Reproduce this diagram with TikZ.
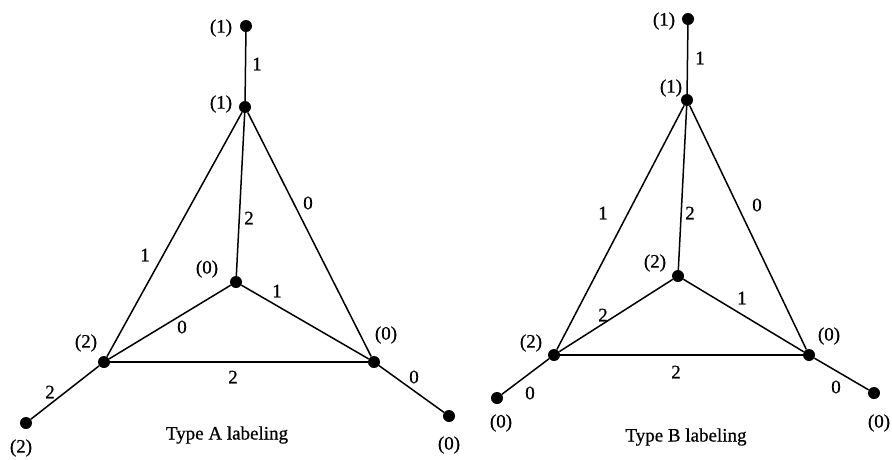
\documentclass[tikz,border=0pt]{standalone}
\usepackage{fontspec}
\setmainfont{Liberation Serif}
\newfontfamily\labfont[FakeBold=0.7]{Liberation Serif}
\usepackage{tikz}
\usetikzlibrary{positioning}
\tikzset{
  dot/.style={circle,fill=black,inner sep=0pt,minimum size=12pt},
  vlab/.style={inner sep=0pt,font=\labfont\fontsize{19}{21}\selectfont},
  elab/.style={vlab},
  capt/.style={vlab},
  lnk/.style={line width=1.5pt,draw=black},
}
\begin{document}
\begin{tikzpicture}[x=1pt,y=-1pt]
  \useasboundingbox (0,0) rectangle (892,459);
  % type A
  \node[dot] (aO1) at (246,26) {};
  \node[dot] (aT) at (245,107) {};
  \node[dot] (aC) at (236,282) {};
  \node[dot] (aL) at (104,362) {};
  \node[dot] (aR) at (374,362) {};
  \node[dot] (aOL) at (26,423) {};
  \node[dot] (aOR) at (449,416) {};
  \draw[lnk](aO1)--(aT); \draw[lnk](aT)--(aL); \draw[lnk](aT)--(aC); \draw[lnk](aT)--(aR);
  \draw[lnk](aC)--(aL); \draw[lnk](aC)--(aR); \draw[lnk](aL)--(aR);
  \draw[lnk](aL)--(aOL); \draw[lnk](aR)--(aOR);
  \node[vlab] (aO1lab) at (221,28) {(1)};
  \node[vlab] (aTlab) at (221,104) {(1)};
  \node[vlab] (aClab) at (207,269) {(0)};
  \node[vlab] (aLlab) at (86,343) {(2)};
  \node[vlab] (aRlab) at (386,335) {(0)};
  \node[vlab] (aOLlab) at (21,448) {(2)};
  \node[vlab] (aORlab) at (449,445) {(0)};
  \node[elab] (ae1) at (257,64) {1};
  \node[elab] (ae2) at (145,255) {1};
  \node[elab] (ae3) at (249,218) {2};
  \node[elab] (ae4) at (308,203) {0};
  \node[elab] (ae5) at (182,327) {0};
  \node[elab] (ae6) at (277,291) {1};
  \node[elab] (ae7) at (233,377) {2};
  \node[elab] (ae8) at (50,392) {2};
  \node[elab] (ae9) at (414,377) {0};
  \node[capt] (captA) at (227,435) {Type A labeling};
  % type B
  \node[dot] (bO1) at (688,19) {};
  \node[dot] (bT) at (687,100) {};
  \node[dot] (bC) at (678,276) {};
  \node[dot] (bL) at (554,355) {};
  \node[dot] (bR) at (809,355) {};
  \node[dot] (bOL) at (497,398) {};
  \node[dot] (bOR) at (874,393) {};
  \draw[lnk](bO1)--(bT); \draw[lnk](bT)--(bL); \draw[lnk](bT)--(bC); \draw[lnk](bT)--(bR);
  \draw[lnk](bC)--(bL); \draw[lnk](bC)--(bR); \draw[lnk](bL)--(bR);
  \draw[lnk](bL)--(bOL); \draw[lnk](bR)--(bOR);
  \node[vlab] (bO1lab) at (664,21) {(1)};
  \node[vlab] (bTlab) at (671,88) {(1)};
  \node[vlab] (bClab) at (655,263) {(2)};
  \node[vlab] (bLlab) at (531,343) {(2)};
  \node[vlab] (bRlab) at (829,336) {(0)};
  \node[vlab] (bOLlab) at (501,423) {(0)};
  \node[vlab] (bORlab) at (879,423) {(0)};
  \node[elab] (be1) at (700,58) {1};
  \node[elab] (be2) at (603,213) {1};
  \node[elab] (be3) at (690,213) {2};
  \node[elab] (be4) at (757,205) {0};
  \node[elab] (be5) at (603,315) {2};
  \node[elab] (be6) at (742,298) {1};
  \node[elab] (be7) at (676,372) {2};
  \node[elab] (be8) at (530,393) {0};
  \node[elab] (be9) at (836,387) {0};
  \node[capt] (captB) at (686,437) {Type B labeling};
\end{tikzpicture}
\end{document}
